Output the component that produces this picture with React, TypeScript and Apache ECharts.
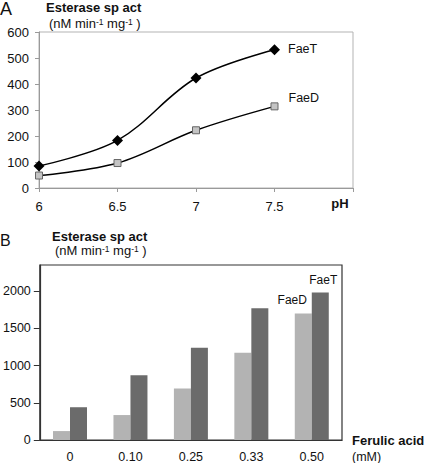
import React, { useEffect, useRef } from "react";
import * as echarts from "echarts";

// Panel A: esterase specific activity vs pH
const phValues = [6, 6.5, 7, 7.5];
const faeTpH = [85, 183, 423, 532];
const faeDpH = [48, 96, 222, 314];

// Panel B: esterase specific activity vs ferulic acid (mM)
const ferulicCategories = ["0", "0.10", "0.25", "0.33", "0.50"];
const faeDFerulic = [120, 335, 690, 1173, 1700];
const faeTFerulic = [440, 870, 1240, 1768, 1980];

const FONT = "'Liberation Sans', Arial, Helvetica, sans-serif";

export default function App() {
  const ref = useRef<HTMLDivElement>(null);

  useEffect(() => {
    document.body.style.margin = "0";
    if (!ref.current) return;
    const chart = echarts.init(ref.current, null, { renderer: "svg" });

    const lastB = ferulicCategories.length - 1;
    const lastA = phValues.length - 1;

    const subtitle = (x: number, y: number) => ({
      type: "text",
      x,
      y,
      style: {
        text: "(nM min{s|-1} mg{s|-1} )",
        fontFamily: FONT,
        fontSize: 13,
        lineHeight: 12,
        fill: "#111",
        verticalAlign: "middle",
        rich: {
          s: { fontSize: 8.5, lineHeight: 9, verticalAlign: "top", fontFamily: FONT, fill: "#111" },
        },
      },
    });

    const title = (x: number, y: number) => ({
      type: "text",
      x,
      y,
      style: {
        text: "Esterase sp act",
        fontFamily: FONT,
        fontSize: 13,
        lineHeight: 12,
        fontWeight: "bold",
        fill: "#111",
        verticalAlign: "middle",
      },
    });

    chart.setOption({
      animation: false,
      backgroundColor: "#ffffff",
      textStyle: { fontFamily: FONT },
      grid: [
        {
          left: 39,
          top: 32,
          width: 314,
          height: 156,
          show: true,
          borderColor: "#b3b3b3",
          borderWidth: 1,
          backgroundColor: "transparent",
        },
        {
          left: 39,
          top: 265,
          width: 303,
          height: 176,
          show: true,
          borderColor: "#333",
          borderWidth: 1.2,
          backgroundColor: "transparent",
        },
      ],
      xAxis: [
        {
          type: "value",
          gridIndex: 0,
          min: 6,
          max: 8,
          interval: 0.5,
          axisLine: { show: true, lineStyle: { color: "#9a9a9a", width: 1 } },
          axisTick: { show: true, length: 4, lineStyle: { color: "#9a9a9a" } },
          splitLine: { show: false },
          axisLabel: {
            color: "#111",
            fontSize: 13,
            fontFamily: FONT,
            margin: 12,
            formatter: (v: number) => (v === 8 ? "" : String(v)),
          },
        },
        {
          type: "category",
          gridIndex: 1,
          data: ferulicCategories,
          axisLine: { show: true, lineStyle: { color: "#333", width: 1.2 } },
          axisTick: { show: false },
          axisLabel: { color: "#111", fontSize: 12.5, fontFamily: FONT, margin: 10 },
        },
      ],
      yAxis: [
        {
          type: "value",
          gridIndex: 0,
          min: 0,
          max: 600,
          interval: 100,
          axisLine: { show: true, lineStyle: { color: "#9a9a9a", width: 1 } },
          axisTick: { show: true, length: 4, lineStyle: { color: "#9a9a9a" } },
          splitLine: { show: false },
          axisLabel: { color: "#111", fontSize: 13, fontFamily: FONT, margin: 10 },
        },
        {
          type: "value",
          gridIndex: 1,
          min: 0,
          max: 2350,
          interval: 500,
          axisLine: { show: true, lineStyle: { color: "#333", width: 1.2 } },
          axisTick: { show: true, length: 6, lineStyle: { color: "#333" } },
          splitLine: { show: false },
          axisLabel: {
            color: "#111",
            fontSize: 12.5,
            fontFamily: FONT,
            margin: 9,
            showMaxLabel: false,
            formatter: (v: number) => (v > 2000 ? "" : String(v)),
          },
        },
      ],
      series: [
        {
          name: "FaeT",
          type: "line",
          xAxisIndex: 0,
          yAxisIndex: 0,
          smooth: 0.35,
          data: phValues.map((x, i) => {
            const item: any = { value: [x, faeTpH[i]] };
            if (i === lastA) {
              item.label = {
                show: true,
                position: "right",
                distance: 8,
                offset: [0, -1],
                formatter: "FaeT",
                fontSize: 12.5,
                color: "#111",
                fontFamily: FONT,
              };
            }
            return item;
          }),
          symbol: "diamond",
          symbolSize: 11,
          itemStyle: { color: "#000" },
          lineStyle: { color: "#000", width: 1.5 },
          z: 3,
        },
        {
          name: "FaeD",
          type: "line",
          xAxisIndex: 0,
          yAxisIndex: 0,
          smooth: 0.35,
          data: phValues.map((x, i) => {
            const item: any = { value: [x, faeDpH[i]] };
            if (i === lastA) {
              item.label = {
                show: true,
                position: "right",
                distance: 10,
                offset: [0, -8],
                formatter: "FaeD",
                fontSize: 12.5,
                color: "#111",
                fontFamily: FONT,
              };
            }
            return item;
          }),
          symbol: "rect",
          symbolSize: 7,
          itemStyle: { color: "#c4c4c4", borderColor: "#666", borderWidth: 1 },
          lineStyle: { color: "#000", width: 1.5 },
          z: 3,
        },
        {
          name: "FaeD",
          type: "bar",
          xAxisIndex: 1,
          yAxisIndex: 1,
          barWidth: 17,
          barGap: "0%",
          itemStyle: { color: "#b3b3b3" },
          data: faeDFerulic.map((v, i) =>
            i === lastB
              ? {
                  value: v,
                  label: {
                    show: true,
                    position: "top",
                    distance: 5,
                    offset: [-11, -2],
                    formatter: "FaeD",
                    fontSize: 12,
                    color: "#111",
                    fontFamily: FONT,
                  },
                }
              : v
          ),
        },
        {
          name: "FaeT",
          type: "bar",
          xAxisIndex: 1,
          yAxisIndex: 1,
          barWidth: 17,
          barGap: "0%",
          itemStyle: { color: "#6b6b6b" },
          data: faeTFerulic.map((v, i) =>
            i === lastB
              ? {
                  value: v,
                  label: {
                    show: true,
                    position: "top",
                    distance: 5,
                    offset: [3, -2],
                    formatter: "FaeT",
                    fontSize: 12,
                    color: "#111",
                    fontFamily: FONT,
                  },
                }
              : v
          ),
        },
      ],
      graphic: [
        {
          type: "text",
          x: 0,
          y: 9,
          style: { text: "A", fontFamily: FONT, fontSize: 18, fill: "#111", verticalAlign: "middle" },
        },
        title(46, 7),
        subtitle(49, 23),
        {
          type: "text",
          x: 340,
          y: 203,
          style: {
            text: "pH",
            fontFamily: FONT,
            fontSize: 13,
            fontWeight: "bold",
            fill: "#111",
            align: "center",
            verticalAlign: "middle",
          },
        },
        {
          type: "text",
          x: 0,
          y: 240,
          style: { text: "B", fontFamily: FONT, fontSize: 16, fill: "#111", verticalAlign: "middle" },
        },
        title(52, 236.5),
        subtitle(55, 250.5),
        {
          type: "text",
          x: 352,
          y: 440,
          style: {
            text: "Ferulic acid",
            fontFamily: FONT,
            fontSize: 13,
            fontWeight: "bold",
            fill: "#111",
            verticalAlign: "middle",
          },
        },
        {
          type: "text",
          x: 352,
          y: 457,
          style: {
            text: "(mM)",
            fontFamily: FONT,
            fontSize: 12.5,
            fill: "#111",
            verticalAlign: "middle",
          },
        },
      ],
    });

    return () => {
      chart.dispose();
    };
  }, []);

  return (
    <div
      ref={ref}
      style={{ position: "fixed", left: 0, top: 0, width: 425, height: 463, background: "#fff" }}
    />
  );
}
